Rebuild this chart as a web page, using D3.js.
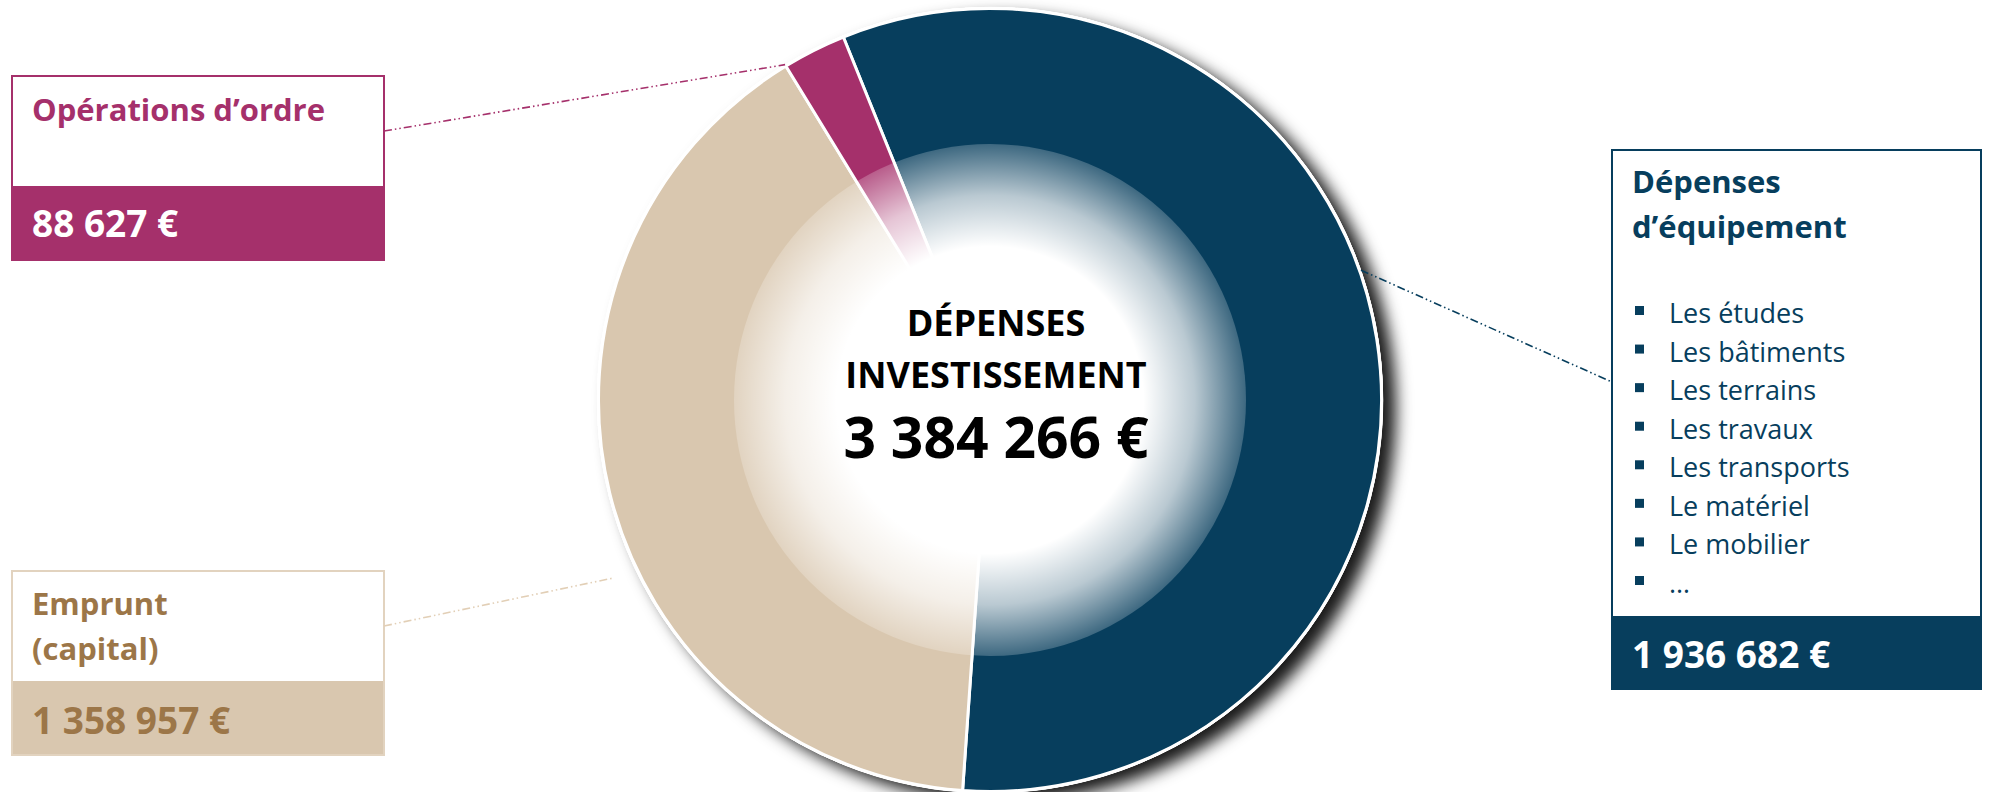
<!DOCTYPE html>
<html><head><meta charset="utf-8">
<script src="https://cdn.jsdelivr.net/npm/d3@7"></script>
<style>
html,body{margin:0;padding:0;background:#fff;}
svg{display:block;font-family:"Open Sans",sans-serif;}
</style></head>
<body>
<script>
// ---- data ----
const categories = ["Dépenses d’équipement", "Emprunt (capital)", "Opérations d’ordre"];
const values = [1936682, 1358957, 88627];
const valueLabels = ["1 936 682 €", "1 358 957 €", "88 627 €"];
const totalLabel = "3 384 266 €";
const centerTitle = ["DÉPENSES", "INVESTISSEMENT"];
const equipementItems = ["Les études", "Les bâtiments", "Les terrains", "Les travaux", "Les transports", "Le matériel", "Le mobilier", "…"];

const colors = ["#073E5D", "#D9C7AF", "#A5306B"];
const textColors = ["#073E5D", "#9C7648", "#A5306B"];

const W = 1990, H = 792;
const svg = d3.select("body").append("svg").attr("width", W).attr("height", H);
const defs = svg.append("defs");

const cx = 990, cy = 400, R = 393;

// shadow filter
const f = defs.append("filter").attr("id", "shadow").attr("x", "-20%").attr("y", "-20%").attr("width", "150%").attr("height", "150%");
f.append("feDropShadow").attr("dx", 13).attr("dy", 9).attr("stdDeviation", 8)
  .attr("flood-color", "#000").attr("flood-opacity", 0.9);

// radial gradient for center
const rg = defs.append("radialGradient").attr("id", "centerGlow");
[[0, 1], [0.6, 1], [0.8, 0.72], [1, 0.22]].forEach(([o, a]) =>
  rg.append("stop").attr("offset", o).attr("stop-color", "#fff").attr("stop-opacity", a));

const g = svg.append("g").attr("transform", `translate(${cx},${cy})`);

g.append("circle").attr("r", R).attr("fill", "#fff").attr("filter", "url(#shadow)");

const pie = d3.pie().sort(null).startAngle(-22 * Math.PI / 180).endAngle(338 * Math.PI / 180);
const arcs = pie(values);
const arc = d3.arc().innerRadius(0).outerRadius(R - 1.5);

g.selectAll("path.slice").data(arcs).join("path")
  .attr("class", "slice")
  .attr("d", arc)
  .attr("fill", (d, i) => colors[i])
  .attr("stroke", "#fff").attr("stroke-width", 3).attr("stroke-linejoin", "round");

g.append("circle").attr("r", R - 1).attr("fill", "none").attr("stroke", "#fff").attr("stroke-width", 2.5);

g.append("circle").attr("r", 256).attr("fill", "url(#centerGlow)");

// center text
const ct = g.append("g").attr("transform", "translate(6,0)").attr("text-anchor", "middle").attr("font-weight", 700).attr("fill", "#000");
ct.append("text").attr("y", -64).attr("font-size", 36).text(centerTitle[0]);
ct.append("text").attr("y", -12).attr("font-size", 36).text(centerTitle[1]);
ct.append("text").attr("y", 58).attr("font-size", 57).text(totalLabel);

// helper: point on circle by angle (clockwise from top)
function polar(angleDeg, r) {
  const a = angleDeg * Math.PI / 180;
  return [cx + r * Math.sin(a), cy - r * Math.cos(a)];
}
const deg = a => a * 180 / Math.PI;

// ---- boxes ----
function box(x, y, w, hTop, hBot, color, borderColor) {
  const b = svg.append("g");
  b.append("rect").attr("x", x).attr("y", y + hTop).attr("width", w).attr("height", hBot).attr("fill", color);
  b.append("rect").attr("x", x).attr("y", y).attr("width", w).attr("height", hTop + hBot)
    .attr("fill", "none").attr("stroke", borderColor).attr("stroke-width", 2);
  return b;
}

const dash = "8,3,1.5,3,1.5,3";

// Opérations d'ordre (index 2)
{
  const b = box(12, 76, 372, 110, 74, colors[2], colors[2]);
  b.append("text").attr("x", 32).attr("y", 121).attr("font-size", 31).attr("font-weight", 700)
    .attr("fill", textColors[2]).text(categories[2]);
  b.append("text").attr("x", 32).attr("y", 237).attr("font-size", 37).attr("font-weight", 700)
    .attr("fill", "#fff").text(valueLabels[2]);
  const p = polar(deg(arcs[2].startAngle), R);
  svg.append("line").attr("x1", 384).attr("y1", 131).attr("x2", p[0]).attr("y2", p[1])
    .attr("stroke", colors[2]).attr("stroke-width", 1.6).attr("stroke-dasharray", dash);
}

// Emprunt (index 1)
{
  const b = box(12, 571, 372, 110, 74, colors[1], "#E2D3BF");
  const t = ["Emprunt", "(capital)"];
  t.forEach((s, i) => b.append("text").attr("x", 32).attr("y", 615 + i * 45).attr("font-size", 31)
    .attr("font-weight", 700).attr("fill", textColors[1]).text(s));
  b.append("text").attr("x", 32).attr("y", 734).attr("font-size", 37).attr("font-weight", 700)
    .attr("fill", textColors[1]).text(valueLabels[1]);
  const mid = deg(arcs[1].startAngle) + (deg(arcs[1].endAngle) - deg(arcs[1].startAngle)) * 0.42;
  const p = polar(mid, R * 1.062);
  svg.append("line").attr("x1", 384).attr("y1", 626).attr("x2", p[0]).attr("y2", p[1])
    .attr("stroke", "#E2CFB6").attr("stroke-width", 1.6).attr("stroke-dasharray", dash);
}

// Dépenses d'équipement (index 0)
{
  const b = box(1612, 150, 369, 466, 73, colors[0], colors[0]);
  const t = ["Dépenses", "d’équipement"];
  t.forEach((s, i) => b.append("text").attr("x", 1632).attr("y", 193 + i * 45).attr("font-size", 31)
    .attr("font-weight", 700).attr("fill", textColors[0]).text(s));
  const y = d3.scalePoint().domain(d3.range(equipementItems.length)).range([323, 593]);
  equipementItems.forEach((s, i) => {
    b.append("rect").attr("x", 1635).attr("y", y(i) - 17).attr("width", 9).attr("height", 9).attr("fill", colors[0]);
    b.append("text").attr("x", 1669).attr("y", y(i)).attr("font-size", 27).attr("fill", textColors[0]).text(s);
  });
  b.append("text").attr("x", 1632).attr("y", 668).attr("font-size", 37).attr("font-weight", 700)
    .attr("fill", "#fff").text(valueLabels[0]);
  const mid = deg(arcs[0].startAngle) + (deg(arcs[0].endAngle) - deg(arcs[0].startAngle)) * 0.45;
  const p = polar(mid, R);
  svg.append("line").attr("x1", p[0]).attr("y1", p[1]).attr("x2", 1612).attr("y2", 382)
    .attr("stroke", colors[0]).attr("stroke-width", 1.6).attr("stroke-dasharray", dash);
}
</script>
</body></html>
